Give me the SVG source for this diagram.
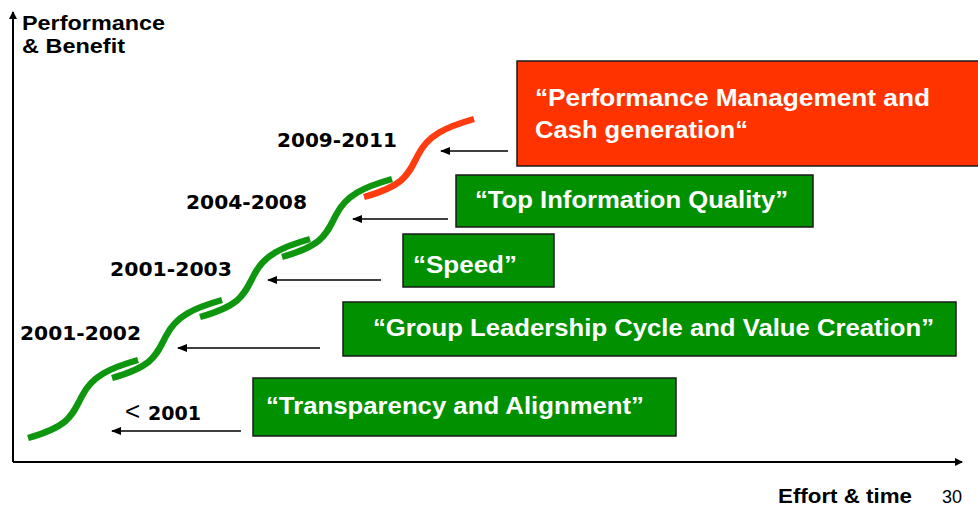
<svg xmlns="http://www.w3.org/2000/svg" width="978" height="507" viewBox="0 0 978 507">
<style>
.box{stroke:#1a1a1a;stroke-width:1.5}
.g{fill:#009000}
.r{fill:#FF3300}
.bt{font-family:"Liberation Sans",Arial,sans-serif;font-weight:bold;font-size:24px;fill:#fff}
.yr{font-family:"DejaVu Sans","Liberation Sans",sans-serif;font-weight:bold;font-size:20px;fill:#000}
.ax{font-family:"Liberation Sans",Arial,sans-serif;font-weight:bold;font-size:20px;fill:#000}
.num{font-family:"Liberation Sans",Arial,sans-serif;font-size:18px;fill:#000}
.curve{fill:none;stroke-width:6.5}
.arr{stroke:#000;stroke-width:1.5;fill:none;marker-end:url(#ah)}
.axis{stroke:#000;stroke-width:2;fill:none;marker-end:url(#axh)}
</style>
<defs>
<marker id="ah" markerWidth="10" markerHeight="8" refX="9" refY="4" orient="auto" markerUnits="userSpaceOnUse">
<path d="M0,0 L10,4 L0,8 Z" fill="#000"/>
</marker>
<marker id="axh" markerWidth="8" markerHeight="8" refX="7" refY="4" orient="auto" markerUnits="userSpaceOnUse">
<path d="M0,0 L8,4 L0,8 Z" fill="#000"/>
</marker>
<path id="s" d="M0,0 C42,-12 44,-23 54,-42 C64,-62 82,-70 110,-78"/>
</defs>
<rect width="978" height="507" fill="#fff"/>

<g id="axes">
<line class="axis" x1="13" y1="462" x2="13" y2="12"/>
<line class="axis" x1="13" y1="462" x2="962" y2="462"/>
<text class="ax" x="22" y="30" textLength="143" lengthAdjust="spacingAndGlyphs">Performance</text>
<text class="ax" x="22" y="53" textLength="103" lengthAdjust="spacingAndGlyphs">&amp; Benefit</text>
<text class="ax" x="778" y="503" font-size="22" textLength="134" lengthAdjust="spacingAndGlyphs">Effort &amp; time</text>
<text class="num" x="942" y="503">30</text>
</g>

<g id="curves">
<use href="#s" class="curve" stroke="#0F960F" transform="translate(28,438)"/>
<use href="#s" class="curve" stroke="#0F960F" transform="translate(112,378)"/>
<use href="#s" class="curve" stroke="#0F960F" transform="translate(200,317)"/>
<use href="#s" class="curve" stroke="#0F960F" transform="translate(282,257)"/>
<use href="#s" class="curve" stroke="#FF3B10" transform="translate(364,197)"/>
</g>

<g id="connectors">
<line class="arr" x1="508" y1="151" x2="441" y2="151"/>
<line class="arr" x1="448" y1="219" x2="353" y2="219"/>
<line class="arr" x1="381" y1="280" x2="268" y2="280"/>
<line class="arr" x1="320" y1="348" x2="178" y2="348"/>
<line class="arr" x1="241" y1="431" x2="112" y2="431"/>
</g>

<g id="labels">
<text class="yr" x="277" y="147" textLength="120" lengthAdjust="spacingAndGlyphs">2009-2011</text>
<text class="yr" x="186" y="209" textLength="121" lengthAdjust="spacingAndGlyphs">2004-2008</text>
<text class="yr" x="110" y="276" textLength="122" lengthAdjust="spacingAndGlyphs">2001-2003</text>
<text class="yr" x="20" y="340" textLength="121" lengthAdjust="spacingAndGlyphs">2001-2002</text>
<text class="yr" x="125" y="420"><tspan font-weight="normal" font-family="Liberation Sans, sans-serif" font-size="26">&lt;</tspan><tspan x="148" textLength="53" lengthAdjust="spacingAndGlyphs">2001</tspan></text>
</g>

<g id="node-performance">
<rect class="box r" x="517" y="61" width="470" height="105"/>
<text class="bt" x="535" y="106" textLength="395" lengthAdjust="spacingAndGlyphs">“Performance Management and</text>
<text class="bt" x="535" y="138" textLength="213" lengthAdjust="spacingAndGlyphs">Cash generation“</text>
</g>

<g id="node-quality">
<rect class="box g" x="456" y="175" width="357" height="52"/>
<text class="bt" x="475" y="208" textLength="313" lengthAdjust="spacingAndGlyphs">“Top Information Quality”</text>
</g>

<g id="node-speed">
<rect class="box g" x="403" y="234" width="151" height="53"/>
<text class="bt" x="413" y="273" textLength="104" lengthAdjust="spacingAndGlyphs">“Speed”</text>
</g>

<g id="node-group">
<rect class="box g" x="343" y="302" width="613" height="54"/>
<text class="bt" x="373" y="336" textLength="561" lengthAdjust="spacingAndGlyphs">“Group Leadership Cycle and Value Creation”</text>
</g>

<g id="node-transparency">
<rect class="box g" x="253" y="378" width="423" height="58"/>
<text class="bt" x="266" y="414" textLength="378" lengthAdjust="spacingAndGlyphs">“Transparency and Alignment”</text>
</g>
</svg>
